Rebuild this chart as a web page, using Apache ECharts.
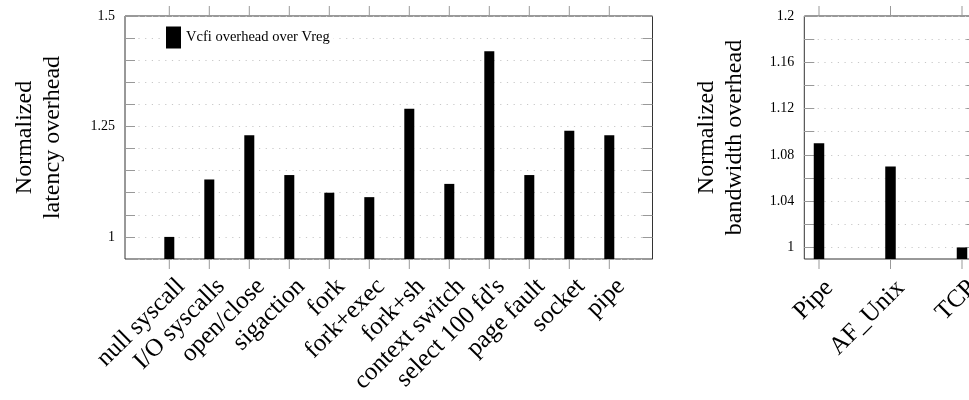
<!DOCTYPE html>
<html>
<head>
<meta charset="utf-8">
<script src="https://cdn.jsdelivr.net/npm/echarts@6/dist/echarts.min.js"></script>
<style>html,body{margin:0;padding:0;background:#fff}#c{width:969px;height:400px}</style>
</head>
<body>
<div id="c"></div>
<script>
// ---- data ----
const latencyCategories = ['null syscall','I/O syscalls','open/close','sigaction','fork','fork+exec','fork+sh','context switch',"select 100 fd's",'page fault','socket','pipe'];
const latencyValues = [1.00,1.13,1.23,1.14,1.10,1.09,1.29,1.12,1.42,1.14,1.24,1.23];
const bandwidthCategories = ['Pipe','AF_Unix','TCP'];
const bandwidthValues = [1.09,1.07,1.00];
const latencyTickLabels = ['1','1.25','1.5'];
const bandwidthTickLabels = ['1','1.04','1.08','1.12','1.16','1.2'];
const bandwidthTickValues = [1.00,1.02,1.04,1.06,1.08,1.10,1.12,1.14,1.16,1.18,1.20];
const latencyRange = [0.95, 1.5];
const bandwidthRange = [0.99, 1.2];
const seriesName = 'Vcfi overhead over Vreg';
const latencyAxisTitle = 'Normalized\nlatency overhead';
const bandwidthAxisTitle = 'Normalized\nbandwidth overhead';

const FONT = '"Liberation Serif", "DejaVu Serif", serif';
const TICK = '#999';
const GRIDC = '#c8c8c8';
const FRAME = '#333';

function fmt(list){
  return function(v){
    const s = String(Math.round(v*100)/100);
    return list.indexOf(s) >= 0 ? s : '';
  };
}
function frameY(idx, range, interval, pos, labels, title, gap, custom){
  const ax = {
    gridIndex: idx, type: 'value', position: pos, min: range[0], max: range[1],
    axisLine: {show: false},
    axisTick: {show: true, inside: true, length: 10, lineStyle: {color: TICK, width: 1}},
    axisLabel: labels ? {show: true, formatter: fmt(labels), fontFamily: FONT, fontSize: 14, color: '#000', margin: 10} : {show: false},
    splitLine: labels ? {show: true, lineStyle: {color: GRIDC, type: [1.2, 5.5], width: 1}} : {show: false},
    name: title || '', nameLocation: 'middle', nameGap: gap || 0,
    nameTextStyle: {fontFamily: FONT, fontSize: 24, color: '#000', lineHeight: 28}
  };
  if (custom) {
    ax.axisTick.customValues = custom;
    ax.axisLabel.customValues = custom;
  } else {
    ax.interval = interval;
  }
  return ax;
}
function hiddenY(idx, range){
  return {gridIndex: idx, type: 'value', min: range[0], max: range[1], show: false, splitLine: {show: false}};
}
function hiddenX(idx, names){
  return {gridIndex: idx, type: 'value', min: 0, max: names.length - 1, show: false, splitLine: {show: false}};
}
// 10px strip grid just below the frame: carries the rotated x labels
function stripX(idx, names, pad, margin){
  return {
    gridIndex: idx, type: 'value', min: 0, max: names.length - 1, interval: 1, position: 'bottom',
    axisLine: {show: false}, axisTick: {show: false}, splitLine: {show: false},
    axisLabel: {show: true, showMinLabel: true, showMaxLabel: true, rotate: 45, align: 'right', verticalAlign: 'top',
      padding: [pad, 0, 0, 0], margin: margin, fontFamily: FONT, fontSize: 25, color: '#000',
      formatter: function(v){ return names[Math.round(v)] || ''; }}
  };
}

const G = {outerBoundsMode: 'none', containLabel: false};
function grid(o){ return Object.assign({}, G, o); }

const chart = echarts.init(document.getElementById('c'), null, {renderer: 'canvas'});
chart.setOption({
  animation: false,
  backgroundColor: '#fff',
  legend: {
    data: [seriesName], left: 163, top: 26.5, icon: 'rect', itemWidth: 15, itemHeight: 22,
    backgroundColor: '#fff', padding: [0, 4, 0, 3],
    textStyle: {fontFamily: FONT, fontSize: 14.5, color: '#000'}
  },
  grid: [
    grid({left: 125, top: 16, width: 527.5, height: 243, show: true, borderColor: FRAME, borderWidth: 1, backgroundColor: 'transparent'}),
    grid({left: 169.3, top: 16, width: 440, height: 243}),
    grid({left: 804.3, top: 16, width: 172, height: 243, show: true, borderColor: FRAME, borderWidth: 1, backgroundColor: 'transparent'}),
    grid({left: 819, top: 16, width: 143, height: 243}),
    grid({left: 169.3, top: 259, width: 440, height: 10}),
    grid({left: 819, top: 259, width: 143, height: 10})
  ],
  xAxis: [
    {gridIndex: 0, type: 'value', show: false, splitLine: {show: false}},
    hiddenX(1, latencyCategories),
    {gridIndex: 2, type: 'value', show: false, splitLine: {show: false}},
    hiddenX(3, bandwidthCategories),
    stripX(4, latencyCategories, 4, 2),
    stripX(5, bandwidthCategories, 2, 5)
  ],
  yAxis: [
    frameY(0, latencyRange, 0.05, 'left', latencyTickLabels, latencyAxisTitle, 58),
    frameY(0, latencyRange, 0.05, 'right', null),
    hiddenY(1, latencyRange),
    frameY(2, bandwidthRange, 0.02, 'left', bandwidthTickLabels, bandwidthAxisTitle, 56, bandwidthTickValues),
    frameY(2, bandwidthRange, 0.02, 'right', null, '', 0, bandwidthTickValues),
    hiddenY(3, bandwidthRange),
    hiddenY(4, [0, 1]),
    hiddenY(5, [0, 1])
  ],
  series: [
    {name: seriesName, type: 'bar', xAxisIndex: 1, yAxisIndex: 2, barWidth: 10,
     data: latencyValues.map(function(v, i){ return [i, v]; }),
     itemStyle: {color: '#000'}, z: 5},
    {name: 'bandwidth', type: 'bar', xAxisIndex: 3, yAxisIndex: 5, barWidth: 10.5,
     data: bandwidthValues.map(function(v, i){ return [i, v]; }),
     itemStyle: {color: '#000'}, z: 5}
  ]
});

// x tick marks (10px, outside the frame, top and bottom), placed through the bar grids' own scales
function tickLines(gridIndex, names, range){
  const out = [];
  names.forEach(function(n, i){
    const pb = chart.convertToPixel({gridIndex: gridIndex}, [i, range[0]]);
    const pt = chart.convertToPixel({gridIndex: gridIndex}, [i, range[1]]);
    if (!pb || !pt) return;
    [[pb[1], pb[1] + 10], [pt[1] - 10, pt[1]]].forEach(function(seg){
      out.push({type: 'line', silent: true, z: 100,
        shape: {x1: pb[0], y1: seg[0], x2: pb[0], y2: seg[1]},
        style: {stroke: TICK, lineWidth: 1}});
    });
  });
  return out;
}
chart.setOption({
  graphic: {elements: tickLines(1, latencyCategories, latencyRange).concat(tickLines(3, bandwidthCategories, bandwidthRange))}
});
</script>
</body>
</html>
